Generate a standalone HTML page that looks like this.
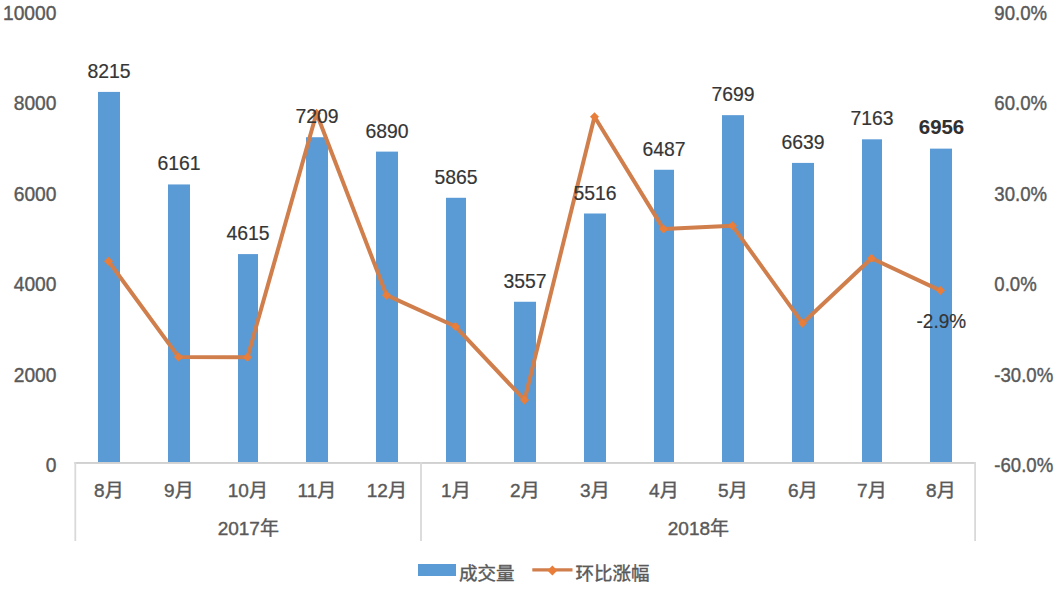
<!DOCTYPE html>
<html><head><meta charset="utf-8"><title>chart</title>
<style>html,body{margin:0;padding:0;background:#fff;width:1062px;height:596px;overflow:hidden}svg{display:block}</style>
</head><body>
<svg width="1062" height="596" viewBox="0 0 1062 596">
<rect width="1062" height="596" fill="#fff"/>
<text transform="translate(56.40,19.90) scale(0.96,1)" text-anchor="end" font-family='"Liberation Sans", sans-serif' font-size="20" fill="#595959" stroke="#595959" stroke-width="0.4" font-weight="normal">10000</text>
<text transform="translate(56.40,109.90) scale(0.96,1)" text-anchor="end" font-family='"Liberation Sans", sans-serif' font-size="20" fill="#595959" stroke="#595959" stroke-width="0.4" font-weight="normal">8000</text>
<text transform="translate(56.40,200.60) scale(0.96,1)" text-anchor="end" font-family='"Liberation Sans", sans-serif' font-size="20" fill="#595959" stroke="#595959" stroke-width="0.4" font-weight="normal">6000</text>
<text transform="translate(56.40,290.80) scale(0.96,1)" text-anchor="end" font-family='"Liberation Sans", sans-serif' font-size="20" fill="#595959" stroke="#595959" stroke-width="0.4" font-weight="normal">4000</text>
<text transform="translate(56.40,381.75) scale(0.96,1)" text-anchor="end" font-family='"Liberation Sans", sans-serif' font-size="20" fill="#595959" stroke="#595959" stroke-width="0.4" font-weight="normal">2000</text>
<text transform="translate(56.40,471.70) scale(0.96,1)" text-anchor="end" font-family='"Liberation Sans", sans-serif' font-size="20" fill="#595959" stroke="#595959" stroke-width="0.4" font-weight="normal">0</text>
<text transform="translate(994.30,19.80) scale(0.93,1)" text-anchor="start" font-family='"Liberation Sans", sans-serif' font-size="20" fill="#595959" stroke="#595959" stroke-width="0.4" font-weight="normal">90.0%</text>
<text transform="translate(994.30,109.80) scale(0.93,1)" text-anchor="start" font-family='"Liberation Sans", sans-serif' font-size="20" fill="#595959" stroke="#595959" stroke-width="0.4" font-weight="normal">60.0%</text>
<text transform="translate(994.30,200.50) scale(0.93,1)" text-anchor="start" font-family='"Liberation Sans", sans-serif' font-size="20" fill="#595959" stroke="#595959" stroke-width="0.4" font-weight="normal">30.0%</text>
<text transform="translate(994.30,290.70) scale(0.93,1)" text-anchor="start" font-family='"Liberation Sans", sans-serif' font-size="20" fill="#595959" stroke="#595959" stroke-width="0.4" font-weight="normal">0.0%</text>
<text transform="translate(994.30,381.65) scale(0.93,1)" text-anchor="start" font-family='"Liberation Sans", sans-serif' font-size="20" fill="#595959" stroke="#595959" stroke-width="0.4" font-weight="normal">-30.0%</text>
<text transform="translate(994.30,471.60) scale(0.93,1)" text-anchor="start" font-family='"Liberation Sans", sans-serif' font-size="20" fill="#595959" stroke="#595959" stroke-width="0.4" font-weight="normal">-60.0%</text>
<rect x="98" y="91.91" width="22" height="370.09" fill="#5B9BD5"/>
<rect x="168" y="184.45" width="22" height="277.55" fill="#5B9BD5"/>
<rect x="238" y="254.09" width="20" height="207.91" fill="#5B9BD5"/>
<rect x="306" y="137.23" width="22" height="324.77" fill="#5B9BD5"/>
<rect x="376" y="151.61" width="22" height="310.39" fill="#5B9BD5"/>
<rect x="446" y="197.78" width="20" height="264.22" fill="#5B9BD5"/>
<rect x="514" y="301.76" width="22" height="160.24" fill="#5B9BD5"/>
<rect x="584" y="213.50" width="22" height="248.50" fill="#5B9BD5"/>
<rect x="654" y="169.76" width="20" height="292.24" fill="#5B9BD5"/>
<rect x="722" y="115.16" width="22" height="346.84" fill="#5B9BD5"/>
<rect x="792" y="162.91" width="22" height="299.09" fill="#5B9BD5"/>
<rect x="862" y="139.31" width="20" height="322.69" fill="#5B9BD5"/>
<rect x="930" y="148.63" width="22" height="313.37" fill="#5B9BD5"/>
<rect x="74.3" y="462" width="901.7" height="1.9" fill="#D0D0D0"/>
<rect x="74.4" y="462" width="1.8" height="79" fill="#D9D9D9"/>
<rect x="420.1" y="462" width="1.8" height="79" fill="#D9D9D9"/>
<rect x="974.2" y="462" width="1.8" height="79" fill="#D9D9D9"/>
<polyline points="108.50,261.20 178.50,356.91 247.50,357.18 316.50,113.28 386.50,295.18 455.50,326.53 524.50,399.96 594.50,116.68 663.50,229.09 732.50,225.85 802.50,323.20 871.50,258.22 940.50,290.57" fill="none" stroke="#D07F4C" stroke-width="4" stroke-linejoin="round" stroke-linecap="round"/>
<path d="M108.50 256.70L113.00 261.20L108.50 265.70L104.00 261.20Z" fill="#E97D3A"/>
<path d="M178.50 352.41L183.00 356.91L178.50 361.41L174.00 356.91Z" fill="#E97D3A"/>
<path d="M247.50 352.68L252.00 357.18L247.50 361.68L243.00 357.18Z" fill="#E97D3A"/>
<path d="M316.50 108.78L321.00 113.28L316.50 117.78L312.00 113.28Z" fill="#E97D3A"/>
<path d="M386.50 290.68L391.00 295.18L386.50 299.68L382.00 295.18Z" fill="#E97D3A"/>
<path d="M455.50 322.03L460.00 326.53L455.50 331.03L451.00 326.53Z" fill="#E97D3A"/>
<path d="M524.50 395.46L529.00 399.96L524.50 404.46L520.00 399.96Z" fill="#E97D3A"/>
<path d="M594.50 112.18L599.00 116.68L594.50 121.18L590.00 116.68Z" fill="#E97D3A"/>
<path d="M663.50 224.59L668.00 229.09L663.50 233.59L659.00 229.09Z" fill="#E97D3A"/>
<path d="M732.50 221.35L737.00 225.85L732.50 230.35L728.00 225.85Z" fill="#E97D3A"/>
<path d="M802.50 318.70L807.00 323.20L802.50 327.70L798.00 323.20Z" fill="#E97D3A"/>
<path d="M871.50 253.72L876.00 258.22L871.50 262.72L867.00 258.22Z" fill="#E97D3A"/>
<path d="M940.50 286.07L945.00 290.57L940.50 295.07L936.00 290.57Z" fill="#E97D3A"/>
<text transform="translate(109.00,77.91) scale(0.97,1)" text-anchor="middle" font-family='"Liberation Sans", sans-serif' font-size="20" fill="#353535" stroke="#353535" stroke-width="0.2" font-weight="normal">8215</text>
<text transform="translate(179.00,170.45) scale(0.97,1)" text-anchor="middle" font-family='"Liberation Sans", sans-serif' font-size="20" fill="#353535" stroke="#353535" stroke-width="0.2" font-weight="normal">6161</text>
<text transform="translate(248.00,240.09) scale(0.97,1)" text-anchor="middle" font-family='"Liberation Sans", sans-serif' font-size="20" fill="#353535" stroke="#353535" stroke-width="0.2" font-weight="normal">4615</text>
<text transform="translate(317.00,123.23) scale(0.97,1)" text-anchor="middle" font-family='"Liberation Sans", sans-serif' font-size="20" fill="#353535" stroke="#353535" stroke-width="0.2" font-weight="normal">7209</text>
<text transform="translate(387.00,137.61) scale(0.97,1)" text-anchor="middle" font-family='"Liberation Sans", sans-serif' font-size="20" fill="#353535" stroke="#353535" stroke-width="0.2" font-weight="normal">6890</text>
<text transform="translate(456.00,183.78) scale(0.97,1)" text-anchor="middle" font-family='"Liberation Sans", sans-serif' font-size="20" fill="#353535" stroke="#353535" stroke-width="0.2" font-weight="normal">5865</text>
<text transform="translate(525.00,287.76) scale(0.97,1)" text-anchor="middle" font-family='"Liberation Sans", sans-serif' font-size="20" fill="#353535" stroke="#353535" stroke-width="0.2" font-weight="normal">3557</text>
<text transform="translate(595.00,199.50) scale(0.97,1)" text-anchor="middle" font-family='"Liberation Sans", sans-serif' font-size="20" fill="#353535" stroke="#353535" stroke-width="0.2" font-weight="normal">5516</text>
<text transform="translate(664.00,155.76) scale(0.97,1)" text-anchor="middle" font-family='"Liberation Sans", sans-serif' font-size="20" fill="#353535" stroke="#353535" stroke-width="0.2" font-weight="normal">6487</text>
<text transform="translate(733.00,101.16) scale(0.97,1)" text-anchor="middle" font-family='"Liberation Sans", sans-serif' font-size="20" fill="#353535" stroke="#353535" stroke-width="0.2" font-weight="normal">7699</text>
<text transform="translate(803.00,148.91) scale(0.97,1)" text-anchor="middle" font-family='"Liberation Sans", sans-serif' font-size="20" fill="#353535" stroke="#353535" stroke-width="0.2" font-weight="normal">6639</text>
<text transform="translate(872.00,125.31) scale(0.97,1)" text-anchor="middle" font-family='"Liberation Sans", sans-serif' font-size="20" fill="#353535" stroke="#353535" stroke-width="0.2" font-weight="normal">7163</text>
<text transform="translate(941.50,133.63) scale(1.02,1)" text-anchor="middle" font-family='"Liberation Sans", sans-serif' font-size="20" fill="#303030" stroke="#303030" stroke-width="0.1" font-weight="bold">6956</text>
<text transform="translate(941.30,327.80) scale(0.95,1)" text-anchor="middle" font-family='"Liberation Sans", sans-serif' font-size="20" fill="#353535" stroke="#353535" stroke-width="0.2" font-weight="normal">-2.9%</text>
<text transform="translate(108.85,496.90) scale(1.0,1)" text-anchor="middle" font-family='"Liberation Sans", "Noto Sans CJK SC", sans-serif' font-size="19" fill="#595959" stroke="#595959" stroke-width="0.4" font-weight="normal">8月</text>
<text transform="translate(178.85,496.90) scale(1.0,1)" text-anchor="middle" font-family='"Liberation Sans", "Noto Sans CJK SC", sans-serif' font-size="19" fill="#595959" stroke="#595959" stroke-width="0.4" font-weight="normal">9月</text>
<text transform="translate(247.85,496.90) scale(1.0,1)" text-anchor="middle" font-family='"Liberation Sans", "Noto Sans CJK SC", sans-serif' font-size="19" fill="#595959" stroke="#595959" stroke-width="0.4" font-weight="normal">10月</text>
<text transform="translate(316.85,496.90) scale(1.0,1)" text-anchor="middle" font-family='"Liberation Sans", "Noto Sans CJK SC", sans-serif' font-size="19" fill="#595959" stroke="#595959" stroke-width="0.4" font-weight="normal">11月</text>
<text transform="translate(386.85,496.90) scale(1.0,1)" text-anchor="middle" font-family='"Liberation Sans", "Noto Sans CJK SC", sans-serif' font-size="19" fill="#595959" stroke="#595959" stroke-width="0.4" font-weight="normal">12月</text>
<text transform="translate(455.85,496.90) scale(1.0,1)" text-anchor="middle" font-family='"Liberation Sans", "Noto Sans CJK SC", sans-serif' font-size="19" fill="#595959" stroke="#595959" stroke-width="0.4" font-weight="normal">1月</text>
<text transform="translate(524.85,496.90) scale(1.0,1)" text-anchor="middle" font-family='"Liberation Sans", "Noto Sans CJK SC", sans-serif' font-size="19" fill="#595959" stroke="#595959" stroke-width="0.4" font-weight="normal">2月</text>
<text transform="translate(594.85,496.90) scale(1.0,1)" text-anchor="middle" font-family='"Liberation Sans", "Noto Sans CJK SC", sans-serif' font-size="19" fill="#595959" stroke="#595959" stroke-width="0.4" font-weight="normal">3月</text>
<text transform="translate(663.85,496.90) scale(1.0,1)" text-anchor="middle" font-family='"Liberation Sans", "Noto Sans CJK SC", sans-serif' font-size="19" fill="#595959" stroke="#595959" stroke-width="0.4" font-weight="normal">4月</text>
<text transform="translate(732.85,496.90) scale(1.0,1)" text-anchor="middle" font-family='"Liberation Sans", "Noto Sans CJK SC", sans-serif' font-size="19" fill="#595959" stroke="#595959" stroke-width="0.4" font-weight="normal">5月</text>
<text transform="translate(802.85,496.90) scale(1.0,1)" text-anchor="middle" font-family='"Liberation Sans", "Noto Sans CJK SC", sans-serif' font-size="19" fill="#595959" stroke="#595959" stroke-width="0.4" font-weight="normal">6月</text>
<text transform="translate(871.85,496.90) scale(1.0,1)" text-anchor="middle" font-family='"Liberation Sans", "Noto Sans CJK SC", sans-serif' font-size="19" fill="#595959" stroke="#595959" stroke-width="0.4" font-weight="normal">7月</text>
<text transform="translate(940.85,496.90) scale(1.0,1)" text-anchor="middle" font-family='"Liberation Sans", "Noto Sans CJK SC", sans-serif' font-size="19" fill="#595959" stroke="#595959" stroke-width="0.4" font-weight="normal">8月</text>
<text transform="translate(248.30,534.70) scale(1.0,1)" text-anchor="middle" font-family='"Liberation Sans", "Noto Sans CJK SC", sans-serif' font-size="19" fill="#595959" stroke="#595959" stroke-width="0.4" font-weight="normal">2017年</text>
<text transform="translate(698.40,534.70) scale(1.0,1)" text-anchor="middle" font-family='"Liberation Sans", "Noto Sans CJK SC", sans-serif' font-size="19" fill="#595959" stroke="#595959" stroke-width="0.4" font-weight="normal">2018年</text>
<rect x="418" y="564" width="38" height="12" fill="#5B9BD5"/>
<text transform="translate(459.00,579.50) scale(1.0,1)" text-anchor="start" font-family='"Liberation Sans", "Noto Sans CJK SC", sans-serif' font-size="18.5" fill="#595959" stroke="#595959" stroke-width="0.4" font-weight="normal">成交量</text>
<line x1="532.3" y1="569.8" x2="572.5" y2="569.8" stroke="#D07F4C" stroke-width="3.3"/>
<path d="M552.40 565.40L557.40 570.40L552.40 575.40L547.40 570.40Z" fill="#E97D3A"/>
<text transform="translate(575.40,579.50) scale(1.0,1)" text-anchor="start" font-family='"Liberation Sans", "Noto Sans CJK SC", sans-serif' font-size="18.5" fill="#595959" stroke="#595959" stroke-width="0.4" font-weight="normal">环比涨幅</text>
</svg>
</body></html>
